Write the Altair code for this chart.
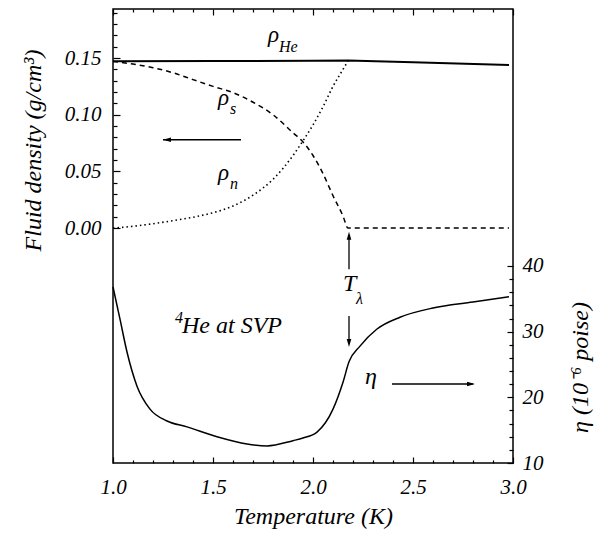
import altair as alt
import pandas as pd

# ---------------- data ----------------
T_he = [1.0, 1.5, 2.0, 2.175, 2.5, 2.98]
rho_he = [0.1471, 0.1473, 0.1476, 0.1478, 0.1462, 0.1439]

T_s = [1.0, 1.1, 1.2, 1.3, 1.4, 1.5, 1.6, 1.7, 1.8, 1.9, 1.95, 2.0, 2.05, 2.1, 2.15, 2.175, 2.98]
rho_s = [0.147, 0.1447, 0.1415, 0.137, 0.131, 0.125, 0.1195, 0.111, 0.100, 0.084, 0.076,
         0.064, 0.048, 0.0285, 0.0106, 0.0, 0.0]

T_n = [1.0, 1.1, 1.2, 1.3, 1.4, 1.5, 1.6, 1.7, 1.8, 1.9, 1.95, 2.0, 2.05, 2.1, 2.15, 2.175]
rho_n = [0.0, 0.0015, 0.0038, 0.0065, 0.0095, 0.0135, 0.0194, 0.029, 0.043, 0.064, 0.077,
         0.091, 0.107, 0.125, 0.140, 0.1474]

T_eta = [1.0, 1.035, 1.07, 1.12, 1.185, 1.27, 1.37, 1.52, 1.67, 1.77, 1.9, 1.95, 2.02,
         2.1, 2.15, 2.18, 2.235, 2.32, 2.435, 2.6, 2.8, 2.98]
eta = [36.8, 31.9, 26.9, 21.7, 18.2, 16.4, 15.5, 14.0, 12.9, 12.6, 13.4, 13.8, 14.7,
       18.2, 22.3, 25.4, 27.8, 30.4, 32.2, 33.6, 34.5, 35.3]

# tick values
x_major = [1.0, 1.5, 2.0, 2.5, 3.0]
x_minor = [1.1, 1.2, 1.3, 1.4, 1.6, 1.7, 1.8, 1.9, 2.1, 2.2, 2.3, 2.4, 2.6, 2.7, 2.8, 2.9]
yd_major = [0.0, 0.05, 0.10, 0.15]
yd_minor = [0.01, 0.02, 0.03, 0.04, 0.06, 0.07, 0.08, 0.09, 0.11, 0.12, 0.13, 0.14,
            0.16, 0.17, 0.18, 0.19]
ye_major = [10, 20, 30, 40]
ye_minor = [12, 14, 16, 18, 22, 24, 26, 28, 32, 34, 36, 38]

# annotations (data coordinates)
dens_main_lab = ["ρ", "ρ", "ρ"]
dens_main_T = [1.775, 1.525, 1.525]
dens_main_v = [0.163, 0.1077, 0.0415]
dens_sub_lab = ["He", "s", "n"]
dens_sub_T = [1.83, 1.585, 1.585]
dens_sub_v = [0.155, 0.1006, 0.0344]

eta_main_lab = ["T", "He at SVP", "η"]
eta_main_T = [2.15, 1.345, 2.26]
eta_main_v = [36.0, 29.6, 21.9]
eta_sub_lab = ["λ", "4"]
eta_sub_T = [2.215, 1.31]
eta_sub_v = [34.2, 31.3]

# arrows: shaft start/end, tip and head direction
arrD_T, arrD_T2, arrD_v, arrD_v2, arrD_ang = [1.64], [1.25], [0.0779], [0.0779], [0]
arrE_T = [2.395, 2.18, 2.18]
arrE_T2 = [2.80, 2.18, 2.18]
arrE_v = [22.03, 39.5, 32.4]
arrE_v2 = [22.03, 44.6, 28.2]
arrE_tipT = [2.81, 2.18, 2.18]
arrE_tipv = [22.03, 45.2, 27.66]
arrE_ang = [180, 90, 270]

# ---------------- tables ----------------
he_df = pd.DataFrame({"T": T_he, "v": rho_he})
s_df = pd.DataFrame({"T": T_s, "v": rho_s})
n_df = pd.DataFrame({"T": T_n, "v": rho_n})
eta_df = pd.DataFrame({"T": T_eta, "v": eta})
dmain_df = pd.DataFrame({"T": dens_main_T, "v": dens_main_v, "lab": dens_main_lab})
dsub_df = pd.DataFrame({"T": dens_sub_T, "v": dens_sub_v, "lab": dens_sub_lab})
emain_df = pd.DataFrame({"T": eta_main_T, "v": eta_main_v, "lab": eta_main_lab})
esub_df = pd.DataFrame({"T": eta_sub_T, "v": eta_sub_v, "lab": eta_sub_lab})
arrD_df = pd.DataFrame({"T": arrD_T, "T2": arrD_T2, "v": arrD_v, "v2": arrD_v2,
                        "tipT": arrD_T2, "tipv": arrD_v2, "ang": arrD_ang})
arrE_df = pd.DataFrame({"T": arrE_T, "T2": arrE_T2, "v": arrE_v, "v2": arrE_v2,
                        "tipT": arrE_tipT, "tipv": arrE_tipv, "ang": arrE_ang})

FONT = "Times New Roman"
xs = alt.Scale(domain=[1.0, 3.0], nice=False, zero=False)
yds = alt.Scale(domain=[-0.2074, 0.1933], nice=False, zero=False)
yes = alt.Scale(domain=[10, 79.13], nice=False, zero=False)


def ax(**kw):
    base = dict(grid=False, domain=False, tickColor="black", labelColor="black",
                titleColor="black", labelFont=FONT, labelFontStyle="italic",
                labelFontSize=21, titleFont=FONT, titleFontStyle="italic",
                titleFontWeight="normal", titleFontSize=24, tickWidth=1.2,
                labelFlush=False, labelOverlap=False)
    base.update(kw)
    return alt.Axis(**base)


ax_x_bmaj = ax(orient="bottom", values=x_major, format=".1f", tickSize=6, offset=-6,
               labelPadding=13, title="Temperature (K)", titleX=200, titleY=66,
               titleBaseline="alphabetic", titleAlign="center")
ax_x_bmin = ax(orient="bottom", values=x_minor, tickSize=3, offset=-3, labels=False, title=None)
ax_x_tmaj = ax(orient="top", values=x_major, tickSize=6, offset=-6, labels=False, title=None)
ax_x_tmin = ax(orient="top", values=x_minor, tickSize=3, offset=-3, labels=False, title=None)
ax_y_lmaj = ax(orient="left", values=yd_major, format=".2f", tickSize=7, offset=-7,
               labelPadding=12, title="Fluid density (g/cm³)", titleAngle=270,
               titleX=-80, titleY=141, titleBaseline="alphabetic", titleAlign="center")
ax_y_lmin = ax(orient="left", values=yd_minor, tickSize=4, offset=-4, labels=False, title=None)
ax_y_rmaj = ax(orient="right", values=ye_major, format="d", tickSize=6, offset=-6,
               labelPadding=9, title="η (10⁻⁶ poise)", titleAngle=270,
               titleX=80, titleY=358, titleBaseline="alphabetic", titleAlign="center")
ax_y_rmin = ax(orient="right", values=ye_minor, tickSize=4, offset=-4, labels=False, title=None)

HEAD = "M0,0 L1.9,-0.55 L1.9,0.55 Z"

# ---------------- density group ----------------
he_line = alt.Chart(he_df).mark_line(color="black", strokeWidth=2).encode(
    x=alt.X("T:Q", scale=xs, axis=ax_x_bmaj),
    y=alt.Y("v:Q", scale=yds, axis=ax_y_lmaj))
s_line = alt.Chart(s_df).mark_line(color="black", strokeWidth=1.5, strokeDash=[5, 4],
                                   interpolate="monotone").encode(
    x=alt.X("T:Q", scale=xs, axis=ax_x_bmin),
    y=alt.Y("v:Q", scale=yds, axis=ax_y_lmin))
n_line = alt.Chart(n_df).mark_line(color="black", strokeWidth=1.6, strokeDash=[1.5, 3],
                                   interpolate="monotone").encode(
    x=alt.X("T:Q", scale=xs, axis=ax_x_tmaj),
    y=alt.Y("v:Q", scale=yds, axis=None))
d_main = alt.Chart(dmain_df).mark_text(align="left", font=FONT, fontStyle="italic",
                                       fontSize=23, dy=-8).encode(
    x=alt.X("T:Q", scale=xs, axis=ax_x_tmin),
    y=alt.Y("v:Q", scale=yds, axis=None), text="lab:N")
d_sub = alt.Chart(dsub_df).mark_text(align="left", font=FONT, fontStyle="italic",
                                     fontSize=16, dy=-5).encode(
    x=alt.X("T:Q", scale=xs, axis=None),
    y=alt.Y("v:Q", scale=yds, axis=None), text="lab:N")
d_shaft = alt.Chart(arrD_df).mark_rule(color="black", strokeWidth=1.3).encode(
    x=alt.X("T:Q", scale=xs, axis=None), x2="T2:Q",
    y=alt.Y("v:Q", scale=yds, axis=None), y2="v2:Q")
d_head = alt.Chart(arrD_df).mark_point(shape=HEAD, filled=True, color="black", size=70,
                                       opacity=1).encode(
    x=alt.X("tipT:Q", scale=xs, axis=None),
    y=alt.Y("tipv:Q", scale=yds, axis=None),
    angle=alt.Angle("ang:Q", scale=None))

dens = alt.layer(he_line, s_line, n_line, d_main, d_sub, d_shaft, d_head).resolve_axis(
    x="independent", y="independent")

# ---------------- viscosity group ----------------
eta_line = alt.Chart(eta_df).mark_line(color="black", strokeWidth=1.5,
                                       interpolate="monotone").encode(
    x=alt.X("T:Q", scale=xs, axis=None),
    y=alt.Y("v:Q", scale=yes, axis=ax_y_rmaj))
e_main = alt.Chart(emain_df).mark_text(align="left", font=FONT, fontStyle="italic",
                                       fontSize=24, dy=-8).encode(
    x=alt.X("T:Q", scale=xs, axis=None),
    y=alt.Y("v:Q", scale=yes, axis=ax_y_rmin), text="lab:N")
e_sub = alt.Chart(esub_df).mark_text(align="left", font=FONT, fontStyle="italic",
                                     fontSize=16, dy=-5).encode(
    x=alt.X("T:Q", scale=xs, axis=None),
    y=alt.Y("v:Q", scale=yes, axis=None), text="lab:N")
e_shaft = alt.Chart(arrE_df).mark_rule(color="black", strokeWidth=1.3).encode(
    x=alt.X("T:Q", scale=xs, axis=None), x2="T2:Q",
    y=alt.Y("v:Q", scale=yes, axis=None), y2="v2:Q")
e_head = alt.Chart(arrE_df).mark_point(shape=HEAD, filled=True, color="black", size=70,
                                       opacity=1).encode(
    x=alt.X("tipT:Q", scale=xs, axis=None),
    y=alt.Y("tipv:Q", scale=yes, axis=None),
    angle=alt.Angle("ang:Q", scale=None))

visc = alt.layer(eta_line, e_main, e_sub, e_shaft, e_head).resolve_axis(
    x="independent", y="independent")

chart = alt.layer(dens, visc).resolve_scale(y="independent").resolve_axis(
    x="independent", y="independent").properties(
    width=400, height=454,
    autosize=alt.AutoSizeParams(type="none"),
    padding={"left": 105, "top": 1, "right": 81, "bottom": 68},
).configure_view(stroke="black", strokeWidth=1.5)

chart.save("out.html", embed_options={"renderer": "svg", "actions": False})
